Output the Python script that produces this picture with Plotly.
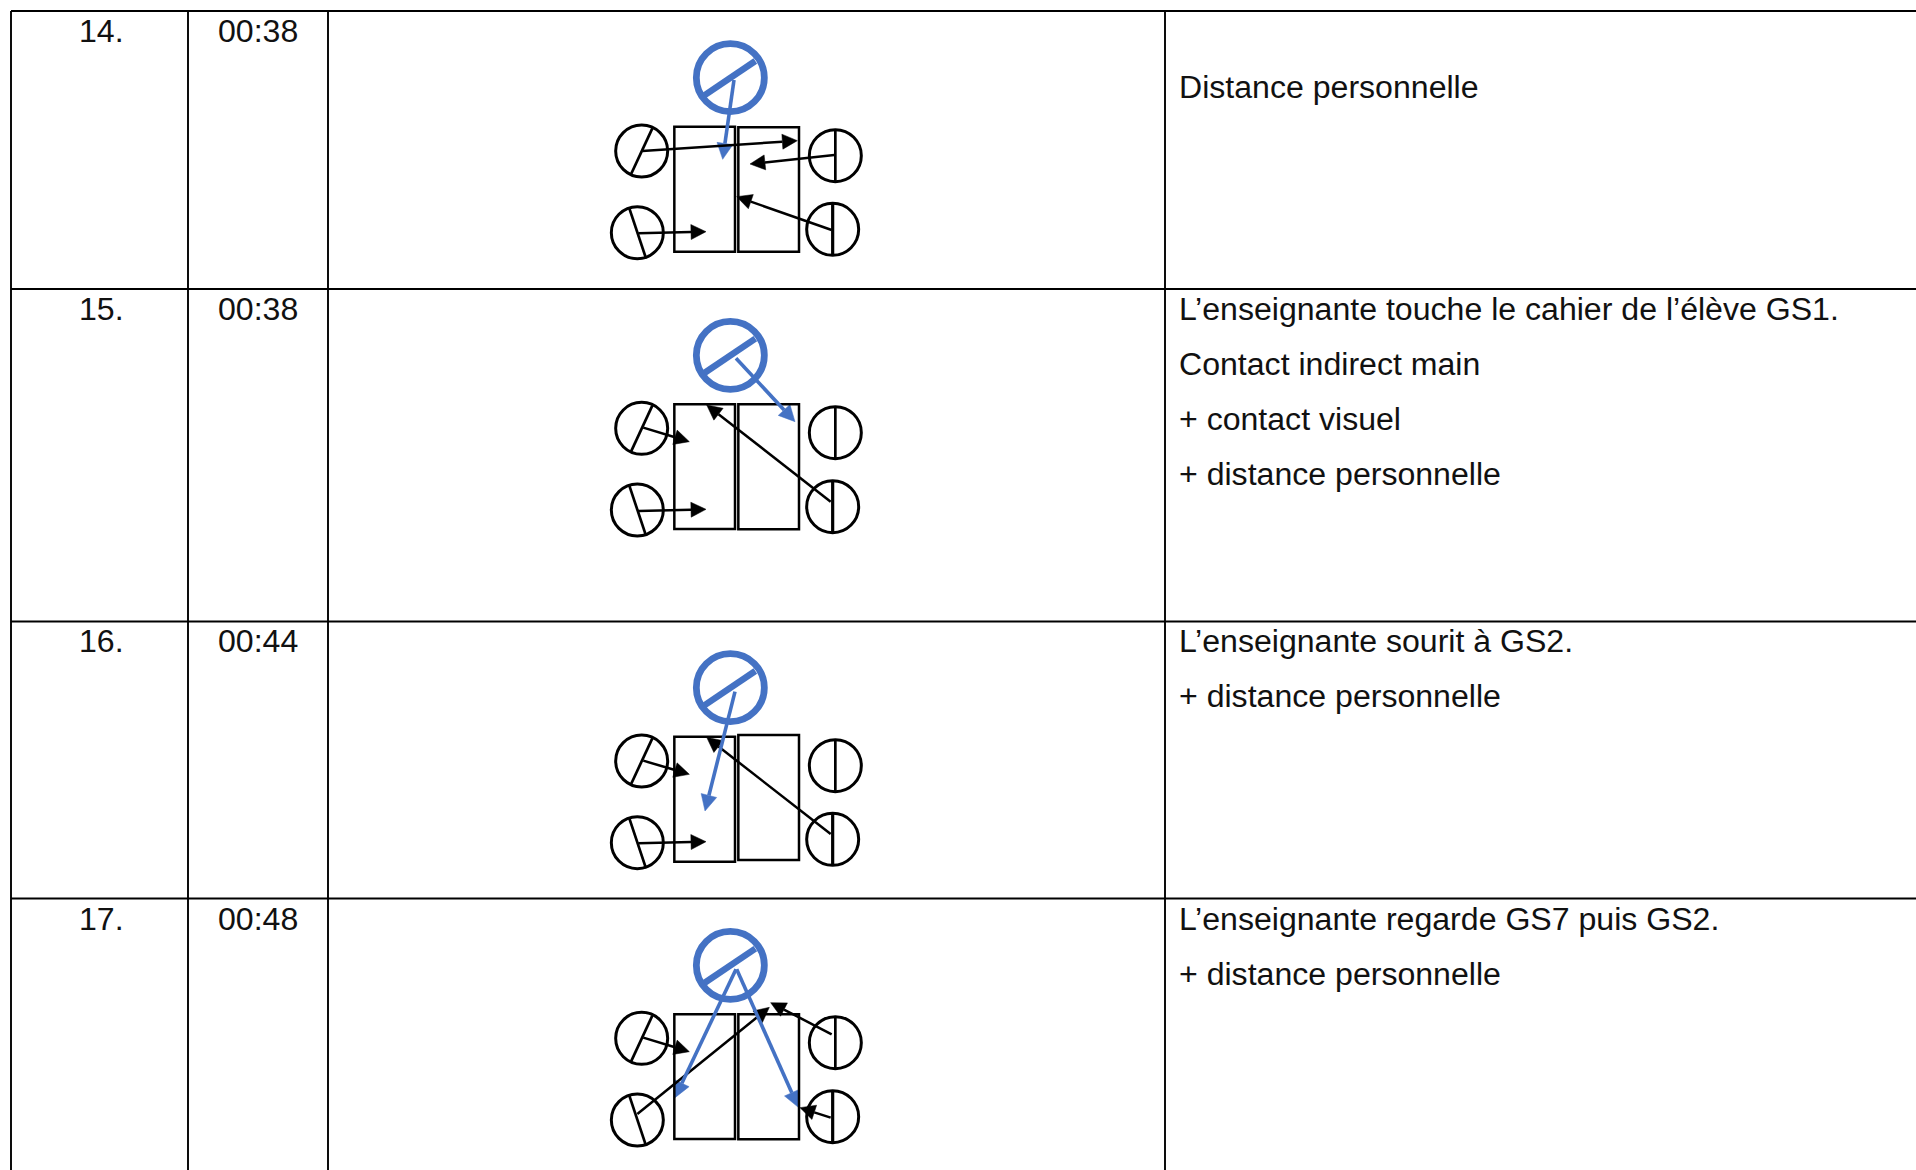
import plotly.graph_objects as go

# Table content
row_numbers = ["14.", "15.", "16.", "17."]
row_times = ["00:38", "00:38", "00:44", "00:48"]
row_notes = [
    ["Distance personnelle"],
    ["L’enseignante touche le cahier de l’élève GS1.", "Contact indirect main", "+ contact visuel", "+ distance personnelle"],
    ["L’enseignante sourit à GS2.", "+ distance personnelle"],
    ["L’enseignante regarde GS7 puis GS2.", "+ distance personnelle"],
]
number_y = [31, 309, 641, 919]
note_y = [
    [87],
    [309, 364, 419, 474],
    [641, 696],
    [919, 974],
]
col_lines = [11, 188, 328, 1165]
row_lines = [11, 289, 621.5, 898.5]

# Diagram geometry, in px inside a local frame of each diagram (1/3 px units)
origins = [(580, 20), (580, 300), (580, 630), (580, 910)]
rects = [
    [(283, 320, 465, 695), (475, 322, 657, 695)],
    [(283, 313, 465, 687), (475, 313, 657, 688)],
    [(283, 320, 465, 695), (475, 315, 657, 690)],
    [(283, 313, 465, 687), (475, 313, 657, 688)],
]
teacher = [(451, 173), (451, 166), (451, 173), (451, 166)]
pupil_lt = [(185, 393), (185, 385), (185, 393), (185, 385)]
pupil_lb = [(172, 638), (172, 630), (172, 638), (172, 630)]
pupil_rt = [(766, 407), (766, 398), (766, 407), (766, 398)]
pupil_rb = [(758, 628), (758, 620), (758, 628), (758, 620)]

black_arrows = [
    [((187, 393), (652, 362)), ((763, 405), (510, 432)), ((175, 640), (378, 635)), ((755, 630), (470, 530))],
    [((190, 383), (328, 425)), ((175, 633), (378, 628)), ((752, 605), (380, 315))],
    [((190, 392), (328, 433)), ((175, 640), (378, 635)), ((752, 612), (380, 322))],
    [((190, 383), (328, 425)), ((172, 612), (568, 292)), ((755, 373), (572, 278)), ((752, 623), (660, 593))],
]
blue_arrows = [
    [((462, 180), (428, 418))],
    [((468, 175), (645, 365))],
    [((465, 185), (375, 543))],
    [((468, 178), (285, 563)), ((470, 178), (655, 592))],
]

BLACK = "#000000"
BLUE = "#4472C4"
TEXT = "#111111"
FONT = "Liberation Sans"
FONT_SIZE = 32.1

fig = go.Figure()
shapes = []


def line(x0, y0, x1, y1, color, width):
    shapes.append(dict(type="line", xref="x", yref="y", x0=x0, y0=y0, x1=x1, y1=y1,
                       line=dict(color=color, width=width)))


# Table rules
for y in row_lines:
    line(col_lines[0], y, 1916, y, BLACK, 1.9)
for x in col_lines:
    line(x, row_lines[0], x, 1170, BLACK, 1.9)


def local(o, p):
    return o[0] + p[0] / 3, o[1] + p[1] / 3


def circle(o, c, r, color, width):
    x, y = local(o, c)
    shapes.append(dict(type="circle", xref="x", yref="y", x0=x - r, x1=x + r, y0=y - r, y1=y + r,
                       line=dict(color=color, width=width), fillcolor="rgba(0,0,0,0)"))


def segment(o, c, a, b, color, width):
    x0, y0 = local(o, (c[0] + a[0], c[1] + a[1]))
    x1, y1 = local(o, (c[0] + b[0], c[1] + b[1]))
    line(x0, y0, x1, y1, color, width)


def arrow(o, tail, tip, color, width, length, half):
    x0, y0 = local(o, tail)
    x1, y1 = local(o, tip)
    dx, dy = x1 - x0, y1 - y0
    n = (dx * dx + dy * dy) ** 0.5
    ux, uy = dx / n, dy / n
    bx, by = x1 - ux * length, y1 - uy * length
    line(x0, y0, bx, by, color, width)
    px, py = -uy * half, ux * half
    fig.add_trace(go.Scatter(
        x=[x1, bx + px, bx - px, x1], y=[y1, by + py, by - py, y1],
        mode="lines", fill="toself", fillcolor=color, line=dict(color=color, width=0.5),
        hoverinfo="skip", showlegend=False))


for i, o in enumerate(origins):
    for r in rects[i]:
        x0, y0 = local(o, (r[0], r[1]))
        x1, y1 = local(o, (r[2], r[3]))
        shapes.append(dict(type="rect", xref="x", yref="y", x0=x0, x1=x1, y0=y0, y1=y1,
                           line=dict(color=BLACK, width=2.5), fillcolor="rgba(0,0,0,0)"))
    circle(o, pupil_lt[i], 26, BLACK, 3)
    segment(o, pupil_lt[i], (32, -68), (-33, 72), BLACK, 2.7)
    circle(o, pupil_lb[i], 26, BLACK, 3)
    segment(o, pupil_lb[i], (-25, -76), (26, 77), BLACK, 2.7)
    circle(o, pupil_rt[i], 26, BLACK, 3)
    segment(o, pupil_rt[i], (0, -79), (0, 79), BLACK, 2.7)
    circle(o, pupil_rb[i], 26, BLACK, 3)
    segment(o, pupil_rb[i], (0, -79), (0, 79), BLACK, 3.2)
    for tail, tip in black_arrows[i]:
        arrow(o, tail, tip, BLACK, 2.5, 15, 7.5)
    circle(o, teacher[i], 34, BLUE, 6.8)
    segment(o, teacher[i], (-78, 53), (75, -50), BLUE, 6.5)
    for tail, tip in blue_arrows[i]:
        arrow(o, tail, tip, BLUE, 3.6, 16, 8)

annotations = []


def text(x, y, s, anchor):
    annotations.append(dict(x=x, y=y, xref="x", yref="y", text=s, showarrow=False,
                            xanchor=anchor, yanchor="middle",
                            font=dict(family=FONT, size=FONT_SIZE, color=TEXT)))


for i in range(4):
    text(101, number_y[i], row_numbers[i], "center")
    text(258, number_y[i], row_times[i], "center")
    for s, y in zip(row_notes[i], note_y[i]):
        text(1176.5, y, s, "left")

fig.update_layout(
    width=1916, height=1170, margin=dict(l=0, r=0, t=0, b=0),
    paper_bgcolor="white", plot_bgcolor="white", showlegend=False,
    shapes=shapes, annotations=annotations,
    xaxis=dict(range=[0, 1916], visible=False, fixedrange=True),
    yaxis=dict(range=[1170, 0], visible=False, fixedrange=True),
)
fig.write_html("out.html", config={"displayModeBar": False},
               post_script="document.body.style.margin='0';document.body.style.overflow='hidden';")
